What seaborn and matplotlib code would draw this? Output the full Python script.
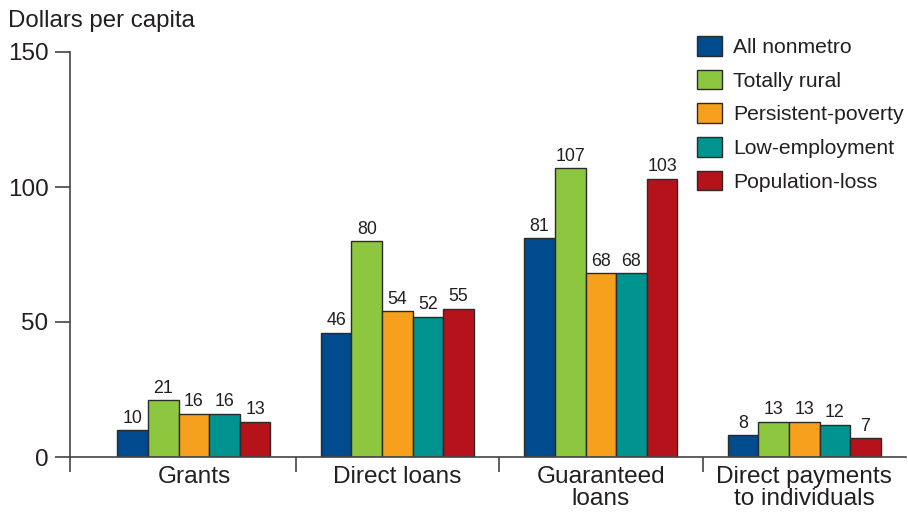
import matplotlib
matplotlib.use("Agg")
import matplotlib.pyplot as plt
import seaborn as sns
import pandas as pd

categories = ["Grants", "Direct loans", "Guaranteed\nloans", "Direct payments\nto individuals"]
series = ["All nonmetro", "Totally rural", "Persistent-poverty", "Low-employment", "Population-loss"]
all_nonmetro = [10, 46, 81, 8]
totally_rural = [21, 80, 107, 13]
persistent_poverty = [16, 54, 68, 13]
low_employment = [16, 52, 68, 12]
population_loss = [13, 55, 103, 7]
colors = ["#004B8D", "#8DC63F", "#F7A01D", "#00938F", "#B5121B"]

values = [all_nonmetro, totally_rural, persistent_poverty, low_employment, population_loss]
rows = []
for s, vals in zip(series, values):
    for c, v in zip(categories, vals):
        rows.append({"category": c, "series": s, "value": v})
df = pd.DataFrame(rows)

sns.set_style("white")
plt.rcParams["font.family"] = ["Liberation Sans", "DejaVu Sans"]
text_color = "#231F20"
axis_color = "#444444"

fig = plt.figure(figsize=(9.08, 5.13), dpi=100)
ax = fig.add_axes([70 / 908, 56 / 513, (906 - 70) / 908, (457 - 52) / 513])

sns.barplot(data=df, x="category", y="value", hue="series", order=categories,
            hue_order=series, palette=colors, width=0.752, edgecolor="#2a2a2a",
            linewidth=1.0, saturation=1, ax=ax)

for cont in ax.containers:
    ax.bar_label(cont, fmt="%d", padding=2.5, fontsize=12.8, color=text_color)

ax.set_xlim(-0.609, 3.5)
ax.set_ylim(0, 150)
ax.set_yticks([0, 50, 100, 150])
ax.tick_params(axis="y", which="major", direction="out", length=11, width=1.2,
               color=axis_color, pad=4.5, labelsize=17.5, labelcolor=text_color, left=True)
ax.set_xticks(range(len(categories)))
ax.set_xticklabels(categories, linespacing=0.98)
ax.tick_params(axis="x", which="major", length=0, pad=6.5, labelsize=17.6, labelcolor=text_color)
ax.set_xticks([-0.609, 0.5, 1.5, 2.5], minor=True)
ax.tick_params(axis="x", which="minor", direction="out", length=11, width=1.2,
               color=axis_color, bottom=True)

for side in ["top", "right"]:
    ax.spines[side].set_visible(False)
for side in ["left", "bottom"]:
    ax.spines[side].set_color(axis_color)
    ax.spines[side].set_linewidth(1.2)

ax.set_xlabel("")
ax.set_ylabel("")

handles, labels = ax.get_legend_handles_labels()
ax.legend(handles, labels, loc="upper left", bbox_to_anchor=(697 / 908, 1 - 36 / 513),
          bbox_transform=fig.transFigure, frameon=False, fontsize=15.2, borderpad=0,
          borderaxespad=0, handlelength=1.2, handleheight=1.05, handletextpad=0.5,
          labelspacing=0.6, labelcolor=text_color)

fig.text(8 / 908, 1 - 27 / 513, "Dollars per capita", fontsize=17.3, color=text_color,
         ha="left", va="baseline")

fig.savefig("out.png", dpi=100)
